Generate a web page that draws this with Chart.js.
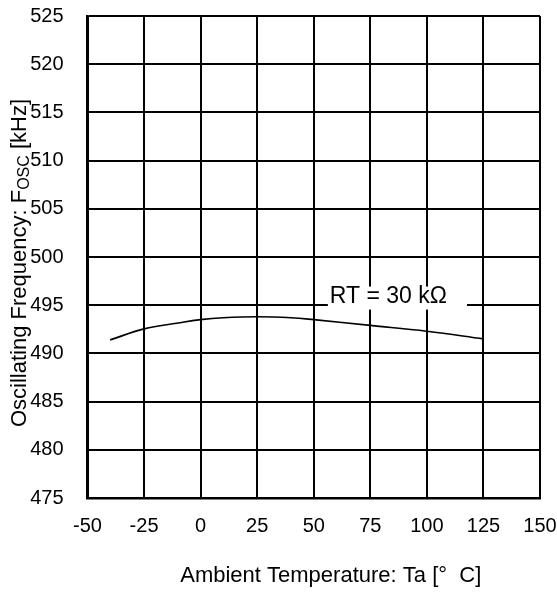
<!DOCTYPE html>
<html>
<head>
<meta charset="utf-8">
<script src="https://cdn.jsdelivr.net/npm/chart.js@4.4.1/dist/chart.umd.min.js"></script>
<style>
html,body{margin:0;padding:0;background:#fff;}
#wrap{width:557px;height:593px;position:relative;}
</style>
</head>
<body>
<div id="wrap"><canvas id="c" width="557" height="593"></canvas></div>
<script>
// ---- data ----
const temperatures = [-40, -25, -10, 0, 10, 25, 40, 50, 75, 100, 125];
const frequencies  = [491.4, 492.55, 493.15, 493.5, 493.7, 493.8, 493.7, 493.5, 492.9, 492.3, 491.5];
const xTickValues = [-50, -25, 0, 25, 50, 75, 100, 125, 150];
const yTickValues = [475, 480, 485, 490, 495, 500, 505, 510, 515, 520, 525];
const seriesLabel = 'RT = 30 kΩ';
const xTitle = 'Ambient Temperature: Ta [°  C]';
const yTitleParts = ['Oscillating Frequency: F', 'OSC', ' [kHz]'];

const FONT = '"Liberation Sans", Arial, sans-serif';

const points = temperatures.map((t, i) => ({x: t, y: frequencies[i]}));

const annotate = {
  id: 'annotate',
  afterDatasetsDraw(chart) {
    const ctx = chart.ctx;
    const xs = chart.scales.x, ys = chart.scales.y;
    // series label with white box
    ctx.save();
    ctx.font = '23px ' + FONT;
    const w = ctx.measureText(seriesLabel).width;
    const cx = xs.getPixelForValue(83);
    const cy = ys.getPixelForValue(496);
    const left = cx - w / 2;
    ctx.fillStyle = '#fff';
    ctx.fillRect(left - 2, cy - 9, w + 22, 23);
    ctx.fillStyle = '#000';
    ctx.textAlign = 'left';
    ctx.textBaseline = 'middle';
    ctx.fillText(seriesLabel, left, cy + 1);
    ctx.restore();

    // x title
    ctx.save();
    ctx.font = '22px ' + FONT;
    ctx.fillStyle = '#000';
    ctx.textAlign = 'center';
    ctx.textBaseline = 'middle';
    ctx.fillText(xTitle, (chart.chartArea.left + chart.chartArea.right) / 2 + 17, 576);
    ctx.restore();

    // y title with subscript
    ctx.save();
    const mainFont = '22px ' + FONT, subFont = '16px ' + FONT;
    ctx.font = mainFont;
    const w1 = ctx.measureText(yTitleParts[0]).width;
    const w3 = ctx.measureText(yTitleParts[2]).width;
    ctx.font = subFont;
    const w2 = ctx.measureText(yTitleParts[1]).width;
    const total = w1 + w2 + w3;
    ctx.translate(20, 263);
    ctx.rotate(-Math.PI / 2);
    ctx.fillStyle = '#000';
    ctx.textBaseline = 'middle';
    ctx.textAlign = 'left';
    let x0 = -total / 2;
    ctx.font = mainFont;
    ctx.fillText(yTitleParts[0], x0, 0);
    x0 += w1;
    ctx.font = subFont;
    ctx.fillText(yTitleParts[1], x0, 5);
    x0 += w2;
    ctx.font = mainFont;
    ctx.fillText(yTitleParts[2], x0, 0);
    ctx.restore();
  }
};

new Chart(document.getElementById('c'), {
  type: 'line',
  data: {
    datasets: [{
      label: seriesLabel,
      data: points,
      borderColor: '#000',
      borderWidth: 1.7,
      pointRadius: 0,
      fill: false,
      tension: 0.4
    }]
  },
  options: {
    responsive: false,
    animation: false,
    devicePixelRatio: 1,
    layout: {padding: {left: 0, right: 17, top: 16, bottom: 0}},
    plugins: {legend: {display: false}, tooltip: {enabled: false}},
    scales: {
      x: {
        type: 'linear',
        min: -50, max: 150,
        afterBuildTicks(s) { s.ticks = xTickValues.map(v => ({value: v})); },
        afterFit(s) { s.height = 95; s.paddingLeft = 0; s.paddingRight = 0; },
        grid: {color: '#000', lineWidth: 2, drawTicks: false},
        border: {color: '#000', width: 2.5},
        ticks: {color: '#000', font: {family: FONT, size: 20}, padding: 16, maxRotation: 0}
      },
      y: {
        type: 'linear',
        min: 475, max: 525,
        afterBuildTicks(s) { s.ticks = yTickValues.map(v => ({value: v})); },
        afterFit(s) { s.width = 87.5; s.paddingTop = 0; s.paddingBottom = 0; },
        grid: {color: '#000', lineWidth: 2, drawTicks: false},
        border: {color: '#000', width: 2.5},
        ticks: {color: '#000', font: {family: FONT, size: 20}, padding: 24}
      }
    }
  },
  plugins: [annotate]
});
</script>
</body>
</html>
